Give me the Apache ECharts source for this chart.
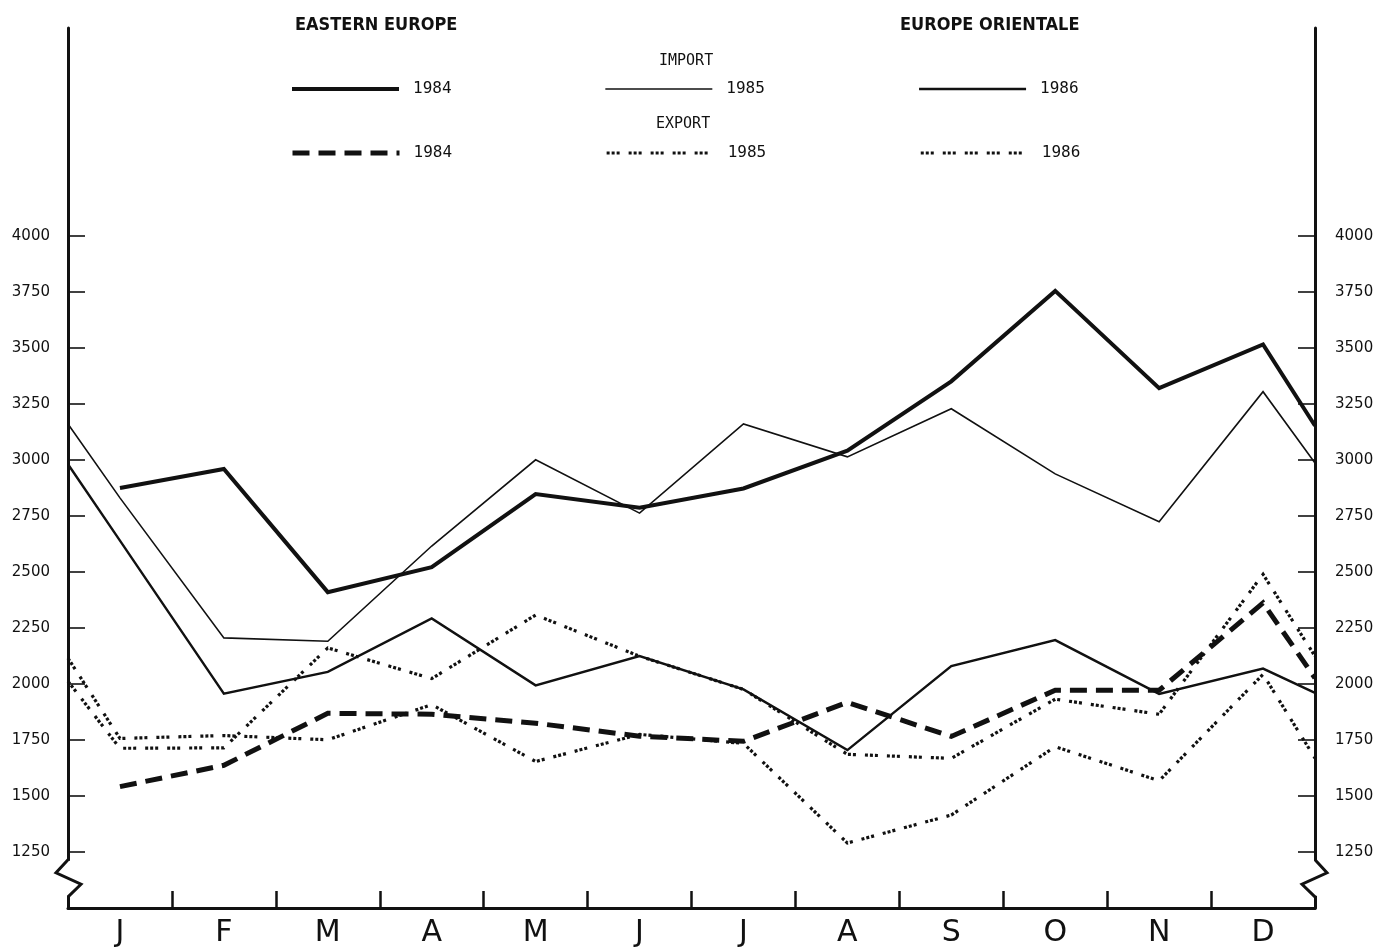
<!DOCTYPE html>
<html><head><meta charset="utf-8">
<script src="https://cdn.jsdelivr.net/npm/echarts@6/dist/echarts.min.js"></script>
<style>html,body{margin:0;padding:0;background:#fff}#c{width:1390px;height:949px}</style>
</head><body><div id="c"></div>
<script>
// ---- data ----
const months = ['J','F','M','A','M','J','J','A','S','O','N','D'];
// time slots: boundary before January, months J..D, boundary after December
const slots = [-0.5, 0, 1, 2, 3, 4, 5, 6, 7, 8, 9, 10, 11, 11.5];
const yTickLabels = [1250, 1500, 1750, 2000, 2250, 2500, 2750, 3000, 3250, 3500, 3750, 4000];

const import1984 = [null, 2875, 2960, 2410, 2522, 2848, 2787, 2873, 3042, 3351, 3755, 3321, 3516, 3153];
const import1985 = [3161, 2831, 2206, 2191, 2616, 3001, 2763, 3161, 3014, 3229, 2938, 2724, 3305, 2987];
const import1986 = [2981, 2640, 1957, 2054, 2293, 1994, 2125, 1976, 1705, 2080, 2196, 1956, 2069, 1960];
const export1984 = [null, 1542, 1637, 1869, 1865, 1825, 1767, 1744, 1918, 1766, 1972, 1972, 2362, 2027];
const export1985 = [2012, 1713, 1715, 2161, 2024, 2308, 2124, 1976, 1686, 1668, 1932, 1865, 2490, 2124];
const export1986 = [2115, 1757, 1770, 1751, 1908, 1654, 1775, 1735, 1290, 1415, 1720, 1568, 2043, 1669];

const titleLeft = 'EASTERN EUROPE';
const titleRight = 'EUROPE ORIENTALE';
const importLabel = 'IMPORT';
const exportLabel = 'EXPORT';

// ---- chart ----
const chart = echarts.init(document.getElementById('c'), null, {renderer: 'canvas'});
const BLACK = '#111';
const pts = vals => slots.map((s, i) => vals[i] == null ? null : [s, vals[i]]).filter(Boolean);
const lineSeries = (name, vals, width, type) => ({
  name, type: 'line', xAxisIndex: 1, yAxisIndex: 2, data: pts(vals),
  symbol: 'none', smooth: false, silent: true,
  lineStyle: {color: BLACK, width, type, join: 'miter', cap: 'butt'},
  itemStyle: {color: BLACK}
});
const dotted = [3, 2, 3, 2, 3, 9];
const yLabelFont = {fontFamily: 'DejaVu Sans', fontSize: 15, color: BLACK};
const legendBase = {
  left: 290, orient: 'horizontal', padding: 0,
  itemWidth: 107, itemHeight: 14, itemGap: 153, selectedMode: false,
  formatter: n => n.slice(-4),
  itemStyle: {opacity: 0},
  lineStyle: {width: 'inherit', type: 'inherit', color: 'inherit'},
  textStyle: {fontFamily: 'DejaVu Sans Mono', fontSize: 16, color: BLACK, padding: [0, 0, 0, 9]}
};

const option = {
  backgroundColor: '#fff',
  animation: false,
  title: [
    {text: titleLeft, left: 290, top: 11, textStyle: {fontFamily: 'DejaVu Sans Condensed, DejaVu Sans', fontWeight: 'bold', fontSize: 18, color: BLACK}},
    {text: titleRight, left: 895, top: 11, textStyle: {fontFamily: 'DejaVu Sans Condensed, DejaVu Sans', fontWeight: 'bold', fontSize: 18, color: BLACK}},
    {text: importLabel, left: 654, top: 49, textStyle: {fontFamily: 'DejaVu Sans Mono', fontWeight: 'normal', fontSize: 15, color: BLACK}},
    {text: exportLabel, left: 651, top: 112, textStyle: {fontFamily: 'DejaVu Sans Mono', fontWeight: 'normal', fontSize: 15, color: BLACK}}
  ],
  legend: [
    Object.assign({data: ['Import 1984', 'Import 1985', 'Import 1986'], top: 81}, legendBase),
    Object.assign({data: ['Export 1984', 'Export 1985', 'Export 1986'], top: 145}, legendBase)
  ],
  grid: [
    {left: 68, right: 75, top: 28, bottom: 41, containLabel: false},
    {left: 68, right: 75, top: 236, bottom: 41, containLabel: false}
  ],
  xAxis: [
    {type: 'category', gridIndex: 0, data: months, boundaryGap: true, position: 'bottom',
     axisLine: {show: true, onZero: false, lineStyle: {color: BLACK, width: 3}},
     axisTick: {show: true, inside: true, length: 17, lineStyle: {color: BLACK, width: 2.5}},
     axisLabel: {margin: 10, fontFamily: 'DejaVu Sans ExtraLight, DejaVu Sans', fontSize: 30, color: BLACK},
     splitLine: {show: false}},
    {type: 'value', gridIndex: 1, min: -0.5, max: 11.5, show: false, axisLine: {onZero: false}}
  ],
  yAxis: [
    {type: 'value', gridIndex: 0, position: 'left', min: 0, max: 1,
     axisLine: {show: true, onZero: false, lineStyle: {color: BLACK, width: 3}},
     axisTick: {show: false}, axisLabel: {show: false}, splitLine: {show: false}},
    {type: 'value', gridIndex: 0, position: 'right', min: 0, max: 1,
     axisLine: {show: true, onZero: false, lineStyle: {color: BLACK, width: 3}},
     axisTick: {show: false}, axisLabel: {show: false}, splitLine: {show: false}},
    {type: 'value', gridIndex: 1, position: 'left', min: 1000, max: 4000, interval: 250,
     axisLine: {show: false, onZero: false}, splitLine: {show: false},
     axisTick: {show: true, inside: true, length: 17, lineStyle: {color: BLACK, width: 1.6}},
     axisLabel: Object.assign({margin: 18, padding: [0, 0, 4, 0], formatter: v => yTickLabels.includes(v) ? String(v) : ''}, yLabelFont)},
    {type: 'value', gridIndex: 1, position: 'right', min: 1000, max: 4000, interval: 250,
     axisLine: {show: false, onZero: false}, splitLine: {show: false},
     axisTick: {show: true, inside: true, length: 17, lineStyle: {color: BLACK, width: 1.6}},
     axisLabel: Object.assign({margin: 20, padding: [0, 0, 4, 0], formatter: v => yTickLabels.includes(v) ? String(v) : ''}, yLabelFont)}
  ],
  series: [
    lineSeries('Import 1984', import1984, 4, 'solid'),
    lineSeries('Import 1985', import1985, 1.6, 'solid'),
    lineSeries('Import 1986', import1986, 2.4, 'solid'),
    lineSeries('Export 1984', export1984, 5, [17, 9]),
    lineSeries('Export 1985', export1985, 3.2, dotted),
    lineSeries('Export 1986', export1986, 3.2, dotted),
    {
      // axis break marks on both vertical axes
      type: 'custom', xAxisIndex: 1, yAxisIndex: 2, silent: true, clip: false, z: 5,
      data: [[slots[0], -1], [slots[slots.length - 1], 1]],
      renderItem: (params, api) => {
        const side = api.value(1);
        const top = api.coord([api.value(0), 1215]);
        const bot = api.coord([api.value(0), 1050]);
        const x = top[0], y0 = top[1], y1 = bot[1], h = y1 - y0;
        return {type: 'group', children: [
          {type: 'rect', shape: {x: x - 4, y: y0 + 1, width: 8, height: h - 2}, style: {fill: '#fff'}},
          {type: 'polyline', shape: {points: [[x, y0], [x + side * 12, y0 + h * 0.35], [x - side * 13, y0 + h * 0.66], [x, y1]]},
           style: {stroke: BLACK, lineWidth: 3, fill: null, lineJoin: 'miter'}}
        ]};
      }
    }
  ]
};
chart.setOption(option);
</script>
</body></html>
